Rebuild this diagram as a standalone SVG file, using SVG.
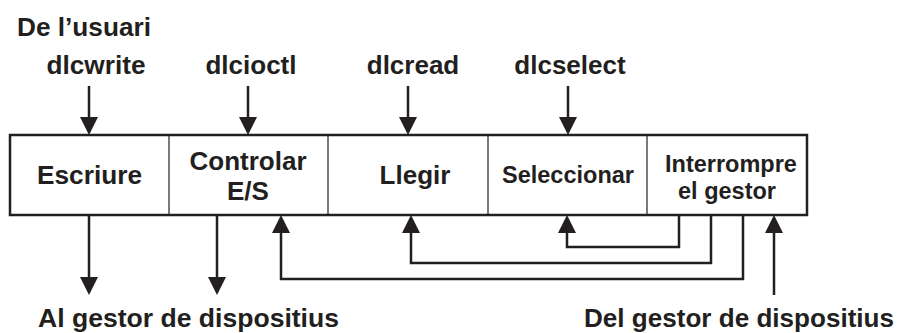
<svg xmlns="http://www.w3.org/2000/svg" width="897" height="333" viewBox="0 0 897 333">
  <style>
    text { font-family: "Liberation Sans", Arial, sans-serif; font-weight: bold; fill: #231f20; }
    .lbl { font-size: 26px; }
    .big { font-size: 26px; text-anchor: middle; }
    .small { font-size: 23.5px; text-anchor: middle; }
    .frame { fill: #fff; stroke: #231f20; stroke-width: 2.5; }
    .div { stroke: #231f20; stroke-width: 1.2; }
    .wire { fill: none; stroke: #231f20; stroke-width: 2.5; marker-end: url(#ah); }
  </style>
  <defs>
    <marker id="ah" markerWidth="18" markerHeight="19" refX="15" refY="9" orient="auto" markerUnits="userSpaceOnUse">
      <path d="M0,0 L18,9 L0,18 z" fill="#231f20"/>
    </marker>
  </defs>
  <rect width="897" height="333" fill="#fff"/>

  <!-- top labels -->
  <g id="labels-top">
    <text class="lbl" x="17" y="36" textLength="134" lengthAdjust="spacingAndGlyphs">De l’usuari</text>
    <text class="big" x="96" y="74" textLength="99" lengthAdjust="spacingAndGlyphs">dlcwrite</text>
    <text class="big" x="251" y="74">dlcioctl</text>
    <text class="big" x="413" y="74">dlcread</text>
    <text class="big" x="570" y="74">dlcselect</text>
  </g>

  <!-- module strip -->
  <g id="strip">
    <rect class="frame" x="10" y="135" width="797" height="80"/>
    <line class="div" x1="169" y1="135" x2="169" y2="215"/>
    <line class="div" x1="328" y1="135" x2="328" y2="215"/>
    <line class="div" x1="488" y1="135" x2="488" y2="215"/>
    <line class="div" x1="647" y1="135" x2="647" y2="215"/>
  </g>
  <g id="escriure"><text class="big" x="89.5" y="184" textLength="105" lengthAdjust="spacingAndGlyphs">Escriure</text></g>
  <g id="controlar">
    <text class="big" x="248" y="170">Controlar</text>
    <text class="big" x="248" y="200">E/S</text>
  </g>
  <g id="llegir"><text class="big" x="415" y="184">Llegir</text></g>
  <g id="seleccionar"><text class="small" x="568" y="183">Seleccionar</text></g>
  <g id="interrompre">
    <text class="small" x="731" y="172">Interrompre</text>
    <text class="small" x="727" y="199">el gestor</text>
  </g>

  <!-- connectors -->
  <g id="connectors">
    <path class="wire" d="M89,86 V132"/>
    <path class="wire" d="M248,86 V132"/>
    <path class="wire" d="M408,86 V132"/>
    <path class="wire" d="M568,86 V132"/>
    <path class="wire" d="M89,215 V292"/>
    <path class="wire" d="M217,215 V292"/>
    <path class="wire" d="M679,215 V247 H567 V218"/>
    <path class="wire" d="M711,215 V263 H411 V218"/>
    <path class="wire" d="M743,215 V279 H281 V218"/>
    <path class="wire" d="M774,295 V218"/>
  </g>

  <!-- bottom labels -->
  <g id="labels-bottom">
    <text class="lbl" x="38" y="327" textLength="301" lengthAdjust="spacingAndGlyphs">Al gestor de dispositius</text>
    <text class="lbl" x="584" y="327" textLength="310" lengthAdjust="spacingAndGlyphs">Del gestor de dispositius</text>
  </g>
</svg>
